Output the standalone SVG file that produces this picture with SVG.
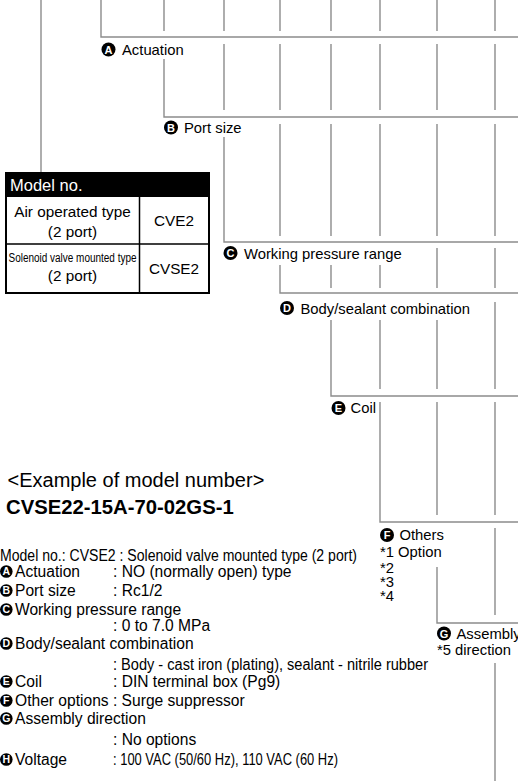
<svg xmlns="http://www.w3.org/2000/svg" width="518" height="781" viewBox="0 0 518 781">
<style>
text{font-family:"Liberation Sans",Arial,Helvetica,sans-serif;fill:#000}
.ln{stroke:#8c8c8c;stroke-width:1.4;fill:none}
.lbl{font-size:14.8px}
.bd{font-size:15.6px}
.cc{fill:#000}
.cl{fill:#fff;font-weight:bold;font-size:11px;text-anchor:middle}
.cls{fill:#fff;font-weight:bold;font-size:10.5px;text-anchor:middle}
.tb{font-size:15.3px;text-anchor:middle}
</style>
<rect width="518" height="781" fill="#fff"/>
<g id="connectors" class="ln">
<path d="M41 0V172"/>
<path d="M101 0V37H518"/>
<path d="M164 0V31M164 59V117H518"/>
<path d="M224 0V31M224 44V110M224 137V242H518"/>
<path d="M280 0V31M280 44V110M280 124V236M280 265V293H518"/>
<path d="M331 0V31M331 44V110M331 124V236M331 265V288M331 320V396H518"/>
<path d="M380 0V31M380 44V110M380 124V236M380 265V288M380 320V389M380 402V522H518"/>
<path d="M437 0V31M437 44V110M437 124V236M437 248V288M437 320V389M437 402V515M437 567V623H518"/>
<path d="M495 0V31M495 44V110M495 124V236M495 248V288M495 302V389M495 402V515M495 528V615M495 663V781"/>
</g>
<g id="label-a"><circle class="cc" cx="108.5" cy="49.5" r="7"/><text class="cl" x="108.5" y="53.5">A</text><text class="lbl" x="122" y="55">Actuation</text></g>
<g id="label-b"><circle class="cc" cx="171" cy="127.5" r="7"/><text class="cl" x="171" y="131.5">B</text><text class="lbl" x="184" y="133">Port size</text></g>
<g id="label-c"><circle class="cc" cx="230.5" cy="253" r="7"/><text class="cl" x="230.5" y="257">C</text><text class="lbl" x="244" y="258.5">Working pressure range</text></g>
<g id="label-d"><circle class="cc" cx="287" cy="308" r="7"/><text class="cl" x="287" y="312">D</text><text class="lbl" x="300.5" y="313.5">Body/sealant combination</text></g>
<g id="label-e"><circle class="cc" cx="338.5" cy="408" r="7"/><text class="cl" x="338.5" y="412">E</text><text class="lbl" x="350.5" y="413">Coil</text></g>
<g id="label-f"><circle class="cc" cx="387" cy="535" r="7"/><text class="cl" x="387" y="539">F</text><text class="lbl" x="399.5" y="540">Others</text>
<text class="lbl" x="380" y="556.5">*1 Option</text><text class="lbl" x="380" y="572.5">*2</text><text class="lbl" x="380" y="586.5">*3</text><text class="lbl" x="380" y="601">*4</text></g>
<g id="label-g"><circle class="cc" cx="444" cy="633.5" r="7"/><text class="cl" x="444" y="637.5">G</text><text class="lbl" x="456.5" y="639">Assembly</text><text class="lbl" x="437" y="655">*5 direction</text></g>
<g id="model-table">
<rect x="6" y="173" width="203" height="120" fill="#fff" stroke="#000" stroke-width="2"/>
<rect x="6" y="173" width="203" height="24" fill="#000"/>
<path d="M6 244H209M139.5 197V293" stroke="#000" stroke-width="1.5"/>
<text x="10" y="191" style="font-size:16.5px;fill:#fff">Model no.</text>
<text class="tb" x="72.5" y="216.5">Air operated type</text>
<text class="tb" x="72.5" y="237">(2 port)</text>
<text class="tb" x="174" y="226">CVE2</text>
<text x="72.5" y="261.5" text-anchor="middle" style="font-size:12px" textLength="128" lengthAdjust="spacingAndGlyphs">Solenoid valve mounted type</text>
<text class="tb" x="72.5" y="281">(2 port)</text>
<text class="tb" x="174" y="274">CVSE2</text>
</g>
<g id="example">
<text x="7.5" y="487" style="font-size:20px">&lt;Example of model number&gt;</text>
<text x="6" y="514" style="font-size:20.3px;font-weight:bold">CVSE22-15A-70-02GS-1</text>
<text class="bd" x="0" y="561" textLength="357" lengthAdjust="spacingAndGlyphs">Model no.: CVSE2 : Solenoid valve mounted type (2 port)</text>
<circle class="cc" cx="6.3" cy="571.5" r="6.3"/><text class="cls" x="6.3" y="575.3">A</text>
<text class="bd" x="15" y="577">Actuation</text><text class="bd" x="113" y="577">: NO (normally open) type</text>
<circle class="cc" cx="6.3" cy="590.5" r="6.3"/><text class="cls" x="6.3" y="594.3">B</text>
<text class="bd" x="15" y="596">Port size</text><text class="bd" x="113" y="596">: Rc1/2</text>
<circle class="cc" cx="6.3" cy="609.5" r="6.3"/><text class="cls" x="6.3" y="613.3">C</text>
<text class="bd" x="15" y="615">Working pressure range</text>
<text class="bd" x="113" y="631">: 0 to 7.0 MPa</text>
<circle class="cc" cx="6.3" cy="643.5" r="6.3"/><text class="cls" x="6.3" y="647.3">D</text>
<text class="bd" x="15" y="649">Body/sealant combination</text>
<text class="bd" x="113" y="670" textLength="315" lengthAdjust="spacingAndGlyphs">: Body - cast iron (plating), sealant - nitrile rubber</text>
<circle class="cc" cx="6.3" cy="681.5" r="6.3"/><text class="cls" x="6.3" y="685.3">E</text>
<text class="bd" x="15" y="687">Coil</text><text class="bd" x="113" y="687">: DIN terminal box (Pg9)</text>
<circle class="cc" cx="6.3" cy="700.5" r="6.3"/><text class="cls" x="6.3" y="704.3">F</text>
<text class="bd" x="15" y="706">Other options : Surge suppressor</text>
<circle class="cc" cx="6.3" cy="718.5" r="6.3"/><text class="cls" x="6.3" y="722.3">G</text>
<text class="bd" x="15" y="724">Assembly direction</text>
<text class="bd" x="113" y="745">: No options</text>
<circle class="cc" cx="6.3" cy="759.5" r="6.3"/><text class="cls" x="6.3" y="763.3">H</text>
<text class="bd" x="15" y="765">Voltage</text><text class="bd" x="113" y="765" textLength="225" lengthAdjust="spacingAndGlyphs">: 100 VAC (50/60 Hz), 110 VAC (60 Hz)</text>
</g>
</svg>
